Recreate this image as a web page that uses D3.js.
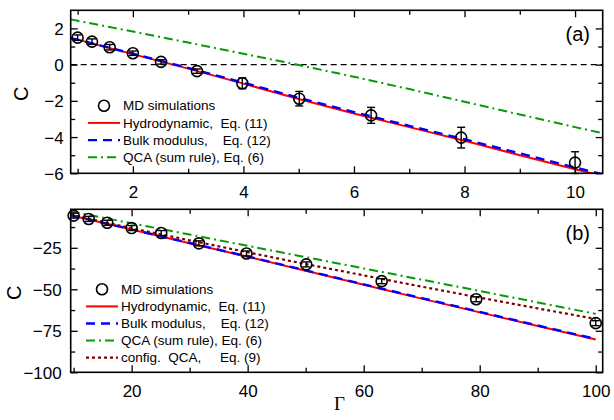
<!DOCTYPE html>
<html>
<head>
<meta charset="utf-8">
<script src="https://cdn.jsdelivr.net/npm/d3@7"></script>
<style>
  body { margin: 0; background: #fff; }
  svg { display: block; font-family: "Liberation Sans", Arial, sans-serif; }
</style>
</head>
<body>
<svg></svg>
<script>
// ---- panel (a) data ----
const gammaA = [1, 1.26, 1.58, 2, 2.51, 3.16, 3.98, 5.01, 6.31, 7.94, 10];
const mdA = [1.49, 1.27, 0.96, 0.63, 0.15, -0.36, -1.03, -1.88, -2.8, -4.03, -5.41];
const errA = [0.15, 0.15, 0.15, 0.12, 0.12, 0.12, 0.3, 0.4, 0.44, 0.57, 0.6];
const gammaLineA = [0.875, 1, 2, 3, 4, 5, 6, 7, 8, 9, 10, 10.5];
const hydroA = [1.46, 1.38, 0.58, -0.22, -1.05, -1.9, -2.7, -3.45, -4.2, -5.0, -5.78, -6.15];
const bulkA = [1.46, 1.38, 0.6, -0.18, -1.0, -1.83, -2.62, -3.38, -4.12, -4.9, -5.68, -6.05];
const qcaA = [2.5, 2.42, 1.83, 1.22, 0.6, -0.02, -0.67, -1.35, -2.05, -2.75, -3.45, -3.79];

// ---- panel (b) data ----
const gammaB = [10, 12.6, 15.8, 20, 25.1, 31.6, 39.8, 50.1, 63.1, 79.4, 100];
const mdB = [-5.6, -7.6, -9.9, -13.1, -16.1, -22.3, -28.4, -35.0, -45.1, -56.0, -70.4];
const errB = [1.5, 1.5, 1.5, 1.5, 1.5, 1.5, 1.5, 1.5, 1.5, 1.5, 1.5];
const gammaLineB = [9.5, 10, 20, 30, 40, 50, 60, 70, 80, 90, 100];
const hydroB = [-5.4, -5.8, -14.0, -22.3, -30.4, -38.8, -47.2, -55.6, -63.9, -72.1, -80.2];
const bulkB = [-5.4, -5.75, -13.9, -22.1, -30.2, -38.6, -47.0, -55.3, -63.6, -71.8, -79.9];
const qcaB = [-3.1, -3.45, -10.2, -17.0, -23.8, -30.6, -37.4, -44.2, -51.0, -57.9, -64.8];
const configB = [-5.0, -5.4, -13.2, -20.5, -27.7, -34.8, -41.6, -48.4, -55.0, -61.5, -67.9];

// ---- ticks & labels ----
const xMajorA = [2, 4, 6, 8, 10];
const xMinorA = [1, 3, 5, 7, 9];
const yMajorA = [-6, -4, -2, 0, 2];
const yMinorA = [-5, -3, -1, 1];
const xMajorB = [20, 40, 60, 80, 100];
const xMinorB = [10, 30, 50, 70, 90];
const yMajorB = [-100, -75, -50, -25];
const yMinorB = [-87.5, -62.5, -37.5, -12.5];

const legendA = ["MD simulations", "Hydrodynamic,  Eq. (11)", "Bulk modulus,    Eq. (12)", "QCA (sum rule), Eq. (6)"];
const legendB = ["MD simulations", "Hydrodynamic,  Eq. (11)", "Bulk modulus,    Eq. (12)", "QCA (sum rule), Eq. (6)", "config.  QCA,     Eq. (9)"];

const styles = {
  hydro: { stroke: "#ff0000", width: 2, dash: null },
  bulk: { stroke: "#0000ff", width: 2.4, dash: "9,6" },
  qca: { stroke: "#089a08", width: 2, dash: "9,4,2,4" },
  config: { stroke: "#800000", width: 2.2, dash: "3,3" },
};

const svg = d3.select("svg").attr("width", 614).attr("height", 420);
const left = 70.7;
const right = 602.7;

const drawPanel = (p) => {
  const x = d3.scaleLinear().domain(p.xDomain).range([left, right]);
  const y = d3.scaleLinear().domain(p.yDomain).range([p.bottom, p.top]);

  const clipId = "clip-" + p.tag;
  svg.append("clipPath").attr("id", clipId)
    .append("rect")
    .attr("x", left).attr("y", p.top)
    .attr("width", right - left).attr("height", p.bottom - p.top);

  const g = svg.append("g");

  // axes: major + minor ticks on all four sides, pointing in
  const addAxis = (axis, transform, withLabels, size) => {
    const a = g.append("g").attr("transform", transform).call(axis);
    a.select(".domain").remove();
    a.selectAll(".tick line").attr("stroke", "#000").attr("stroke-width", 1.3);
    if (!withLabels) a.selectAll("text").remove();
    else a.selectAll("text").attr("fill", "#000").style("font-size", "17px");
    return a;
  };

  const bx = addAxis(d3.axisBottom(x).tickValues(p.xMajor).tickSizeInner(-7).tickSizeOuter(0).tickPadding(13),
    `translate(0,${p.bottom})`, true);
  addAxis(d3.axisBottom(x).tickValues(p.xMinor).tickSizeInner(-4.5).tickSizeOuter(0).tickFormat(""),
    `translate(0,${p.bottom})`, false);
  addAxis(d3.axisTop(x).tickValues(p.xMajor).tickSizeInner(-7).tickSizeOuter(0).tickFormat(""),
    `translate(0,${p.top})`, false);
  addAxis(d3.axisTop(x).tickValues(p.xMinor).tickSizeInner(-4.5).tickSizeOuter(0).tickFormat(""),
    `translate(0,${p.top})`, false);
  const ly = addAxis(d3.axisLeft(y).tickValues(p.yMajor).tickSizeInner(-7).tickSizeOuter(0).tickPadding(p.yPad),
    `translate(${left},0)`, true);
  ly.selectAll("text").attr("dy", "0.36em");
  addAxis(d3.axisLeft(y).tickValues(p.yMinor).tickSizeInner(-4.5).tickSizeOuter(0).tickFormat(""),
    `translate(${left},0)`, false);
  addAxis(d3.axisRight(y).tickValues(p.yMajor).tickSizeInner(-7).tickSizeOuter(0).tickFormat(""),
    `translate(${right},0)`, false);
  addAxis(d3.axisRight(y).tickValues(p.yMinor).tickSizeInner(-4.5).tickSizeOuter(0).tickFormat(""),
    `translate(${right},0)`, false);

  const plot = g.append("g").attr("clip-path", `url(#${clipId})`);

  // zero line
  if (p.zeroLine) {
    plot.append("line")
      .attr("x1", left).attr("x2", right)
      .attr("y1", y(0)).attr("y2", y(0))
      .attr("stroke", "#000").attr("stroke-width", 1.2)
      .attr("stroke-dasharray", "6,4");
  }

  const line = d3.line().x((d) => x(d[0])).y((d) => y(d[1]));
  p.series.forEach((s) => {
    const st = styles[s.key];
    plot.append("path")
      .datum(p.lineX.map((gv, i) => [gv, s.values[i]]))
      .attr("d", line)
      .attr("fill", "none")
      .attr("stroke", st.stroke)
      .attr("stroke-width", st.width)
      .attr("stroke-dasharray", st.dash);
  });

  // MD points with error bars
  const pts = p.gamma.map((gv, i) => ({ g: gv, c: p.md[i], e: p.err[i] }));
  const pg = g.selectAll(".pt-" + p.tag).data(pts).enter().append("g");
  pg.append("line")
    .attr("x1", (d) => x(d.g)).attr("x2", (d) => x(d.g))
    .attr("y1", (d) => y(d.c - d.e)).attr("y2", (d) => y(d.c + d.e))
    .attr("stroke", "#000").attr("stroke-width", 1.4);
  [-1, 1].forEach((s) => {
    pg.append("line")
      .attr("x1", (d) => x(d.g) - 4).attr("x2", (d) => x(d.g) + 4)
      .attr("y1", (d) => y(d.c + s * d.e)).attr("y2", (d) => y(d.c + s * d.e))
      .attr("stroke", "#000").attr("stroke-width", 1.4);
  });
  pg.append("circle")
    .attr("cx", (d) => x(d.g)).attr("cy", (d) => y(d.c))
    .attr("r", 5.5)
    .attr("fill", "none").attr("stroke", "#000").attr("stroke-width", 1.6);

  // frame
  g.append("rect")
    .attr("x", left).attr("y", p.top)
    .attr("width", right - left).attr("height", p.bottom - p.top)
    .attr("fill", "none").attr("stroke", "#000").attr("stroke-width", 1.6);

  // legend
  const lg = g.append("g");
  p.legend.forEach((label, i) => {
    const ry = p.legY + i * p.legStep;
    if (i === 0) {
      lg.append("circle").attr("cx", p.legX0 + 16).attr("cy", ry).attr("r", 5.5)
        .attr("fill", "none").attr("stroke", "#000").attr("stroke-width", 1.6);
    } else {
      const st = styles[p.series[i - 1].key];
      lg.append("line")
        .attr("x1", p.legX0).attr("x2", p.legX0 + 32)
        .attr("y1", ry).attr("y2", ry)
        .attr("stroke", st.stroke).attr("stroke-width", st.width)
        .attr("stroke-dasharray", st.dash);
    }
    lg.append("text")
      .attr("x", p.legX0 + 35).attr("y", ry)
      .attr("dy", "0.35em")
      .style("font-size", "13.5px")
      .style("white-space", "pre")
      .text(label);
  });

  // panel tag
  g.append("text")
    .attr("x", 590).attr("y", p.top + p.tagDy)
    .attr("text-anchor", "end")
    .style("font-size", "20px")
    .text(p.tagText);

  // y title
  g.append("text")
    .attr("transform", `translate(${p.yTitleX},${(p.top + p.bottom) / 2 + 2}) rotate(-90)`)
    .attr("text-anchor", "middle")
    .style("font-size", "20px")
    .text("C");
};

drawPanel({
  tag: "a", tagText: "(a)", tagDy: 31,
  top: 10.3, bottom: 173.3,
  xDomain: [0.875, 10.5], yDomain: [-6, 3],
  xMajor: xMajorA, xMinor: xMinorA, yMajor: yMajorA, yMinor: yMinorA,
  yPad: 7, yTitleX: 28,
  zeroLine: true,
  gamma: gammaA, md: mdA, err: errA,
  lineX: gammaLineA,
  series: [
    { key: "hydro", values: hydroA },
    { key: "bulk", values: bulkA },
    { key: "qca", values: qcaA },
  ],
  legend: legendA, legX0: 88, legY: 105.7, legStep: 17.2,
});

drawPanel({
  tag: "b", tagText: "(b)", tagDy: 31,
  top: 209.3, bottom: 372.3,
  xDomain: [9.5, 101.2], yDomain: [-100, -1.8],
  xMajor: xMajorB, xMinor: xMinorB, yMajor: yMajorB, yMinor: yMinorB,
  yPad: 9, yTitleX: 21,
  zeroLine: false,
  gamma: gammaB, md: mdB, err: errB,
  lineX: gammaLineB,
  series: [
    { key: "hydro", values: hydroB },
    { key: "bulk", values: bulkB },
    { key: "qca", values: qcaB },
    { key: "config", values: configB },
  ],
  legend: legendB, legX0: 86, legY: 289.3, legStep: 17.1,
});

// x title
svg.append("text")
  .attr("x", 339.5).attr("y", 410)
  .attr("text-anchor", "middle")
  .style("font-family", "'Liberation Serif', 'Times New Roman', serif")
  .style("font-size", "19px")
  .text("Γ");
</script>
</body>
</html>
